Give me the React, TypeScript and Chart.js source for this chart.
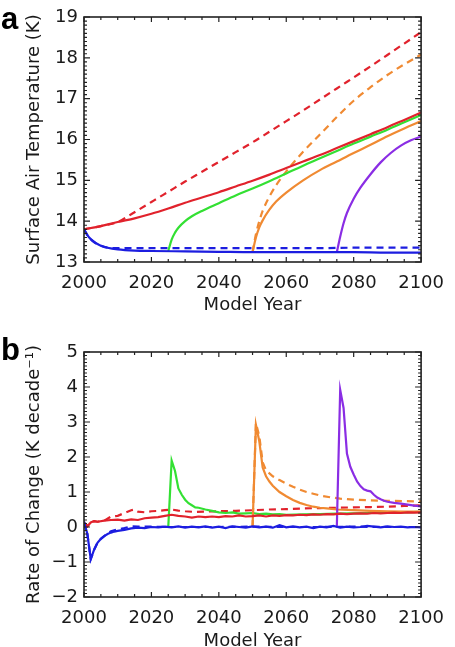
import React, { useEffect, useRef } from "react";
import { Chart, registerables } from "chart.js";
Chart.register(...registerables);

// ---------- Panel a: Surface Air Temperature (K) ----------
const redSolidYearsA = [2000, 2005, 2010, 2015, 2020, 2025, 2030, 2035, 2040, 2045, 2050, 2055, 2060, 2065, 2070, 2075, 2080, 2085, 2090, 2095, 2100];
const redSolidA = [13.8, 13.88, 13.98, 14.07, 14.18, 14.31, 14.45, 14.58, 14.71, 14.85, 14.99, 15.14, 15.3, 15.46, 15.62, 15.79, 15.96, 16.13, 16.3, 16.48, 16.66];
const redDashedYearsA = [2000, 2005, 2010, 2015, 2020, 2025, 2030, 2035, 2040, 2045, 2050, 2055, 2060, 2065, 2070, 2075, 2080, 2085, 2090, 2095, 2100];
const redDashedA = [13.8, 13.88, 13.98, 14.22, 14.47, 14.72, 14.97, 15.21, 15.45, 15.69, 15.93, 16.19, 16.45, 16.71, 16.98, 17.25, 17.52, 17.79, 18.07, 18.35, 18.63];
const blueSolidYearsA = [2000, 2001, 2002, 2003, 2004, 2005, 2007, 2010, 2015, 2020, 2030, 2040, 2050, 2060, 2070, 2080, 2090, 2100];
const blueSolidA = [13.8, 13.66, 13.56, 13.49, 13.44, 13.4, 13.35, 13.31, 13.28, 13.27, 13.26, 13.25, 13.24, 13.24, 13.24, 13.24, 13.23, 13.23];
const blueDashedYearsA = [2000, 2001, 2002, 2003, 2004, 2005, 2007, 2010, 2015, 2020, 2030, 2040, 2050, 2060, 2070, 2080, 2090, 2100];
const blueDashedA = [13.8, 13.66, 13.56, 13.49, 13.44, 13.4, 13.35, 13.34, 13.34, 13.34, 13.34, 13.34, 13.34, 13.34, 13.34, 13.35, 13.35, 13.35];
const greenYearsA = [2025, 2026, 2027, 2028, 2030, 2032, 2035, 2040, 2045, 2050, 2055, 2060, 2065, 2070, 2075, 2080, 2085, 2090, 2095, 2100];
const greenA = [13.27, 13.55, 13.72, 13.84, 14.0, 14.12, 14.25, 14.44, 14.63, 14.8, 14.98, 15.17, 15.36, 15.54, 15.72, 15.9, 16.07, 16.24, 16.42, 16.6];
const orangeSolidYearsA = [2050, 2051, 2052, 2053, 2055, 2057, 2060, 2065, 2070, 2075, 2080, 2085, 2090, 2095, 2100];
const orangeSolidA = [13.24, 13.6, 13.85, 14.02, 14.28, 14.48, 14.7, 15.0, 15.25, 15.46, 15.67, 15.87, 16.08, 16.27, 16.45];
const orangeDashedYearsA = [2050, 2051, 2052, 2053, 2055, 2057, 2060, 2065, 2070, 2075, 2080, 2085, 2090, 2095, 2100];
const orangeDashedA = [13.24, 13.68, 14.0, 14.25, 14.6, 14.88, 15.22, 15.7, 16.12, 16.55, 16.95, 17.28, 17.58, 17.84, 18.08];
const purpleYearsA = [2075, 2076, 2077, 2078, 2080, 2082, 2085, 2088, 2091, 2094, 2097, 2100];
const purpleA = [13.24, 13.62, 13.95, 14.2, 14.55, 14.82, 15.15, 15.44, 15.67, 15.85, 15.98, 16.07];

// ---------- Panel b: Rate of Change (K decade^-1) ----------
const blueSolidYearsB = [2000, 2001, 2002, 2003, 2004, 2005, 2006, 2007, 2008, 2009, 2010, 2012, 2014, 2016, 2018, 2020, 2022, 2024, 2026, 2028, 2030, 2032, 2034, 2036, 2038, 2040, 2042, 2044, 2046, 2048, 2050, 2052, 2054, 2056, 2058, 2060, 2062, 2064, 2066, 2068, 2070, 2072, 2074, 2076, 2078, 2080, 2082, 2084, 2086, 2088, 2090, 2092, 2094, 2096, 2098, 2100];
const blueSolidB = [0.15, -0.2, -0.92, -0.65, -0.45, -0.34, -0.26, -0.2, -0.16, -0.13, -0.11, -0.08, -0.04, -0.02, -0.03, 0.0, -0.01, 0.01, -0.01, 0.02, -0.02, 0.01, -0.01, 0.02, -0.02, 0.01, -0.03, 0.02, 0.0, -0.02, 0.02, -0.01, 0.01, -0.02, 0.05, -0.01, 0.02, -0.01, 0.01, -0.03, 0.01, -0.01, 0.03, -0.02, 0.01, -0.01, 0.0, 0.03, 0.01, -0.01, 0.02, 0.0, 0.01, -0.01, 0.0, -0.01];
const blueDashedYearsB = [2000, 2001, 2002, 2003, 2004, 2005, 2006, 2007, 2008, 2010, 2012, 2014, 2016, 2020, 2025, 2030, 2040, 2050, 2060, 2070, 2080, 2090, 2100];
const blueDashedB = [0.15, -0.2, -0.92, -0.65, -0.45, -0.34, -0.26, -0.19, -0.12, -0.07, -0.03, 0.02, 0.01, 0.01, 0.0, 0.0, 0.0, 0.01, 0.0, 0.0, 0.01, 0.0, 0.0];
const redSolidYearsB = [2000, 2001, 2002, 2003, 2004, 2006, 2008, 2010, 2012, 2014, 2016, 2018, 2020, 2022, 2024, 2026, 2028, 2030, 2032, 2034, 2036, 2038, 2040, 2042, 2044, 2046, 2048, 2050, 2052, 2054, 2056, 2058, 2060, 2062, 2064, 2066, 2068, 2070, 2072, 2074, 2076, 2078, 2080, 2082, 2084, 2086, 2088, 2090, 2092, 2094, 2096, 2098, 2100];
const redSolidB = [0.12, 0.02, 0.13, 0.17, 0.15, 0.18, 0.2, 0.21, 0.18, 0.22, 0.2, 0.25, 0.27, 0.28, 0.32, 0.35, 0.32, 0.3, 0.27, 0.3, 0.28, 0.3, 0.28, 0.31, 0.3, 0.33, 0.3, 0.31, 0.33, 0.3, 0.33, 0.32, 0.34, 0.33, 0.35, 0.34, 0.36, 0.35, 0.37, 0.36, 0.38, 0.37, 0.38, 0.39, 0.38, 0.4, 0.39, 0.4, 0.41, 0.4, 0.42, 0.41, 0.42];
const redDashedYearsB = [2000, 2001, 2002, 2003, 2004, 2006, 2008, 2010, 2012, 2014, 2015, 2016, 2018, 2020, 2022, 2024, 2026, 2028, 2030, 2033, 2036, 2040, 2045, 2050, 2055, 2060, 2065, 2070, 2075, 2080, 2085, 2090, 2095, 2100];
const redDashedB = [0.12, 0.02, 0.13, 0.17, 0.15, 0.18, 0.3, 0.32, 0.4, 0.48, 0.5, 0.44, 0.42, 0.45, 0.46, 0.48, 0.5, 0.47, 0.45, 0.43, 0.44, 0.45, 0.46, 0.48, 0.5, 0.51, 0.53, 0.54, 0.55, 0.56, 0.57, 0.58, 0.6, 0.62];
const greenYearsB = [2025, 2026, 2027, 2028, 2029, 2030, 2031, 2032, 2033, 2034, 2036, 2038, 2040, 2042, 2044, 2046, 2048, 2050, 2052, 2054, 2056, 2058, 2060, 2065, 2070, 2075, 2080, 2085, 2090, 2095, 2100];
const greenB = [0.0, 1.9, 1.6, 1.1, 0.92, 0.78, 0.68, 0.62, 0.56, 0.55, 0.5, 0.46, 0.42, 0.4, 0.42, 0.38, 0.39, 0.4, 0.37, 0.38, 0.36, 0.37, 0.35, 0.36, 0.37, 0.38, 0.39, 0.4, 0.41, 0.42, 0.43];
const orangeSolidYearsB = [2050, 2051, 2052, 2053, 2054, 2055, 2056, 2058, 2060, 2062, 2064, 2066, 2068, 2070, 2072, 2075, 2080, 2085, 2090, 2095, 2100];
const orangeSolidB = [0.0, 2.92, 2.45, 1.7, 1.45, 1.3, 1.18, 1.0, 0.88, 0.77, 0.69, 0.63, 0.58, 0.55, 0.53, 0.5, 0.48, 0.46, 0.45, 0.44, 0.44];
const orangeDashedYearsB = [2050, 2051, 2052, 2053, 2054, 2056, 2058, 2060, 2062, 2064, 2066, 2068, 2070, 2073, 2076, 2080, 2085, 2090, 2095, 2100];
const orangeDashedB = [0.0, 2.97, 2.6, 1.85, 1.62, 1.45, 1.34, 1.24, 1.15, 1.07, 1.0, 0.95, 0.9, 0.85, 0.81, 0.78, 0.76, 0.75, 0.74, 0.73];
const purpleYearsB = [2075, 2076, 2077, 2078, 2079, 2080, 2081, 2082, 2083, 2084, 2085, 2086, 2087, 2088, 2089, 2090, 2092, 2094, 2096, 2098, 2100];
const purpleB = [0.0, 3.92, 3.4, 2.1, 1.72, 1.5, 1.3, 1.17, 1.08, 1.04, 1.02, 0.92, 0.84, 0.79, 0.75, 0.72, 0.69, 0.67, 0.64, 0.61, 0.59];

// ---------- Axes ----------
const xMin = 2000;
const xMax = 2100;
const xMajorStep = 20;
const xMinorStep = 5;
const yRangeA = [13, 19];
const yRangeB = [-2, 5];
const yMinorStep = 0.1;
const xTitle = "Model Year";
const yTitleA = "Surface Air Temperature (K)";
const yTitleB = "Rate of Change (K decade\u207B\u00B9)";

const RED = "#e1222c";
const BLUE = "#1c1de0";
const GREEN = "#33e033";
const ORANGE = "#f08a32";
const PURPLE = "#8a2de4";
const FONT = "'DejaVu Sans', 'Liberation Sans', Arial, sans-serif";
const LETTER_FONT = "'Liberation Sans', Arial, Helvetica, sans-serif";
const TEXT = "#1a1a1a";

function pts(xs: number[], ys: number[]) {
  return xs.map((x, i) => ({ x, y: ys[i] }));
}

function ds(xs: number[], ys: number[], color: string, dashed: boolean, smooth: boolean) {
  return {
    data: pts(xs, ys),
    borderColor: color,
    backgroundColor: color,
    borderWidth: 2.2,
    borderDash: dashed ? [7, 5] : [],
    pointRadius: 0,
    fill: false,
    tension: 0,
    cubicInterpolationMode: smooth ? "monotone" : "default",
  };
}

const boxTicks = {
  id: "boxTicks",
  afterDatasetsDraw(chart: any, _args: any, opts: any) {
    const { ctx, chartArea, scales } = chart;
    const { left, right, top, bottom } = chartArea;
    const x = scales.x;
    const y = scales.y;
    ctx.save();
    ctx.strokeStyle = "#222";
    ctx.lineWidth = 1.2;
    ctx.setLineDash([]);
    ctx.beginPath();
    const nx = Math.round((x.max - x.min) / opts.xMinor);
    for (let i = 0; i <= nx; i++) {
      const v = x.min + i * opts.xMinor;
      const px = x.getPixelForValue(v);
      const major = Math.abs((v - x.min) % opts.xMajor) < 1e-6;
      const len = major ? 5 : 3;
      ctx.moveTo(px, bottom);
      ctx.lineTo(px, bottom - len);
      ctx.moveTo(px, top);
      ctx.lineTo(px, top + len);
    }
    const ny = Math.round((y.max - y.min) / opts.yMinor);
    for (let i = 0; i <= ny; i++) {
      const v = y.min + i * opts.yMinor;
      const py = y.getPixelForValue(v);
      const major = Math.abs(v - Math.round(v)) < 1e-6;
      const len = major ? 6 : 3;
      ctx.moveTo(left, py);
      ctx.lineTo(left + len, py);
      ctx.moveTo(right, py);
      ctx.lineTo(right - len, py);
    }
    ctx.stroke();
    ctx.lineWidth = 1.6;
    ctx.strokeRect(left, top, right - left, bottom - top);
    ctx.restore();
  },
};

function makeOptions(
  yRange: number[],
  yTitle: string,
  padTop: number,
  xHeight: number,
  xTitlePad: number
) {
  return {
    responsive: false,
    animation: false,
    devicePixelRatio: 1,
    layout: { padding: { top: padTop, right: 23, left: 0, bottom: 0 } },
    plugins: {
      legend: { display: false },
      tooltip: { enabled: false },
      boxTicks: { xMinor: xMinorStep, xMajor: xMajorStep, yMinor: yMinorStep },
    },
    scales: {
      x: {
        type: "linear",
        min: xMin,
        max: xMax,
        grid: { display: false, drawTicks: false },
        border: { display: false },
        ticks: {
          stepSize: xMajorStep,
          autoSkip: false,
          maxRotation: 0,
          padding: 11,
          color: TEXT,
          font: { family: FONT, size: 18 },
          callback: (v: any) => String(v),
        },
        title: {
          display: true,
          text: xTitle,
          color: TEXT,
          font: { family: FONT, size: 18 },
          padding: { top: 0, bottom: xTitlePad },
        },
        afterFit: (s: any) => {
          s.height = xHeight;
        },
      },
      y: {
        type: "linear",
        min: yRange[0],
        max: yRange[1],
        grid: { display: false, drawTicks: false },
        border: { display: false },
        ticks: {
          stepSize: 1,
          autoSkip: false,
          padding: 6,
          color: TEXT,
          font: { family: FONT, size: 18 },
          callback: (v: any) => (v < 0 ? "\u2212" + Math.abs(v) : String(v)),
        },
        title: {
          display: true,
          text: yTitle,
          color: TEXT,
          font: { family: FONT, size: 18 },
          padding: { top: 24, bottom: 0 },
        },
        afterFit: (s: any) => {
          s.width = 84;
        },
      },
    },
  };
}

export default function App() {
  const refA = useRef<HTMLCanvasElement | null>(null);
  const refB = useRef<HTMLCanvasElement | null>(null);

  useEffect(() => {
    const chartA = new Chart(refA.current as HTMLCanvasElement, {
      type: "line",
      data: {
        datasets: [
          ds(blueSolidYearsA, blueSolidA, BLUE, false, true),
          ds(redSolidYearsA, redSolidA, RED, false, true),
          ds(greenYearsA, greenA, GREEN, false, true),
          ds(orangeSolidYearsA, orangeSolidA, ORANGE, false, true),
          ds(purpleYearsA, purpleA, PURPLE, false, true),
          ds(blueDashedYearsA, blueDashedA, BLUE, true, true),
          ds(orangeDashedYearsA, orangeDashedA, ORANGE, true, true),
          ds(redDashedYearsA, redDashedA, RED, true, true),
        ] as any,
      },
      options: makeOptions(yRangeA, yTitleA, 17, 61, 7) as any,
      plugins: [boxTicks],
    });
    const chartB = new Chart(refB.current as HTMLCanvasElement, {
      type: "line",
      data: {
        datasets: [
          ds(blueSolidYearsB, blueSolidB, BLUE, false, false),
          ds(redSolidYearsB, redSolidB, RED, false, false),
          ds(purpleYearsB, purpleB, PURPLE, false, false),
          ds(orangeSolidYearsB, orangeSolidB, ORANGE, false, false),
          ds(greenYearsB, greenB, GREEN, false, false),
          ds(blueDashedYearsB, blueDashedB, BLUE, true, false),
          ds(redDashedYearsB, redDashedB, RED, true, false),
          ds(orangeDashedYearsB, orangeDashedB, ORANGE, true, false),
        ] as any,
      },
      options: makeOptions(yRangeB, yTitleB, 29, 66, 11) as any,
      plugins: [boxTicks],
    });
    return () => {
      chartA.destroy();
      chartB.destroy();
    };
  }, []);

  const letter: React.CSSProperties = {
    position: "absolute",
    left: 1,
    font: `bold 31px ${LETTER_FONT}`,
    lineHeight: "31px",
    color: "#000",
  };

  return (
    <div
      style={{
        position: "fixed",
        left: 0,
        top: 0,
        width: 455,
        height: 647,
        overflow: "hidden",
        background: "#fff",
      }}
    >
      <canvas
        ref={refA}
        width={455}
        height={323}
        style={{ position: "absolute", left: 0, top: 0, display: "block" }}
      />
      <canvas
        ref={refB}
        width={455}
        height={340}
        style={{ position: "absolute", left: 0, top: 323, display: "block" }}
      />
      <div style={{ ...letter, top: 3 }}>a</div>
      <div style={{ ...letter, top: 334 }}>b</div>
    </div>
  );
}
